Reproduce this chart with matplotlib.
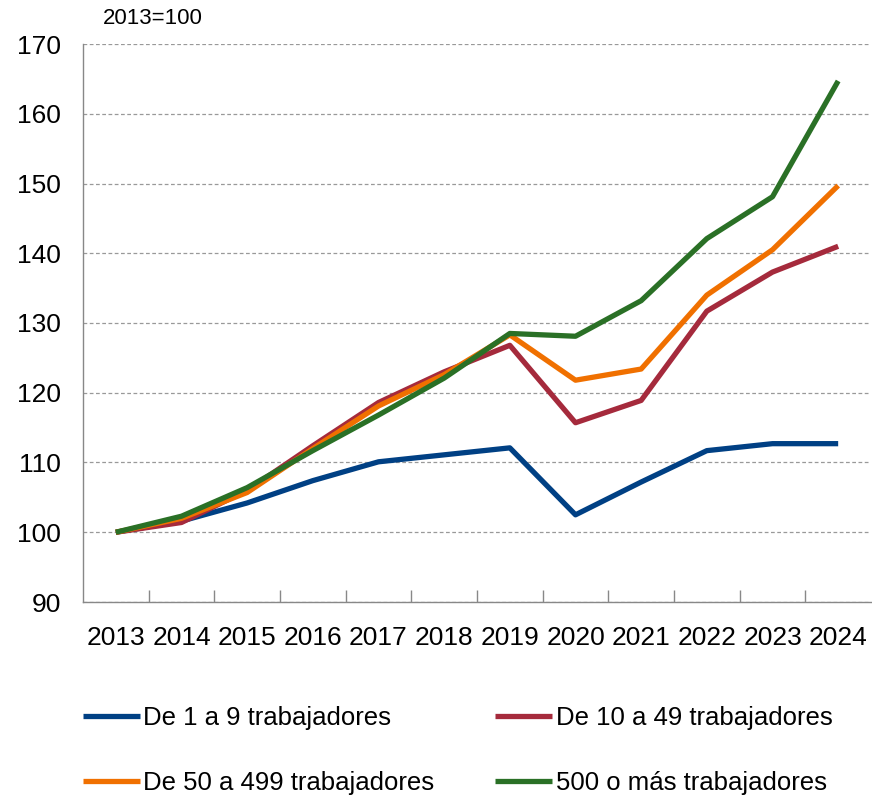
import matplotlib
matplotlib.use('Agg')
import matplotlib.pyplot as plt

plt.rcParams['font.family'] = ['Liberation Sans', 'DejaVu Sans']

years = ['2013', '2014', '2015', '2016', '2017', '2018',
         '2019', '2020', '2021', '2022', '2023', '2024']

# Índices 2013=100 por tamaño de empresa
micro = [100, 101.6, 104.2, 107.4, 110.1, 111.1, 112.1, 102.5, 107.2, 111.7, 112.7, 112.7]
pequena = [100, 101.4, 106.0, 112.4, 118.6, 123.0, 126.8, 115.7, 118.9, 131.7, 137.3, 141.0]
mediana = [100, 102.0, 105.7, 112.0, 118.1, 122.6, 128.3, 121.8, 123.4, 134.0, 140.5, 149.7]
grande = [100, 102.3, 106.4, 111.7, 116.8, 122.1, 128.5, 128.1, 133.2, 142.1, 148.1, 164.7]

labels = ['De 1 a 9 trabajadores', 'De 10 a 49 trabajadores',
          'De 50 a 499 trabajadores', '500 o más trabajadores']
colors = ['#004084', '#a52a3c', '#f07000', '#2a7026']

fig = plt.figure(figsize=(8.72, 7.99), dpi=100)
ax = fig.add_axes([83 / 872, 1 - 602 / 799, 788 / 872, 558 / 799])

x = range(len(years))
lines = []
for series, label, color in zip([micro, pequena, mediana, grande], labels, colors):
    ln, = ax.plot(x, series, color=color, lw=3.8, label=label, solid_capstyle='butt')
    lines.append(ln)

ax.set_xlim(-0.5, len(years) - 0.5)
ax.set_ylim(90, 170)
ax.set_yticks(range(90, 171, 10))
ax.tick_params(axis='y', length=0, labelsize=19, pad=16)

ax.set_xticks(x)
ax.set_xticklabels(years)
ax.set_xticks([i + 0.5 for i in range(len(years) - 1)], minor=True)
ax.tick_params(axis='x', which='major', length=0, labelsize=19, pad=17)
ax.tick_params(axis='x', which='minor', direction='in', length=9, color='#888888', width=1)

ax.grid(axis='y', linestyle=(0, (3, 2)), color='#999999', lw=0.9)
ax.set_axisbelow(True)
for s in ['top', 'right']:
    ax.spines[s].set_visible(False)
for s in ['left', 'bottom']:
    ax.spines[s].set_color('#888888')
    ax.spines[s].set_linewidth(1)

fig.text(103 / 872, 1 - 19 / 799, '2013=100', fontsize=16, va='center', ha='left')

order = [0, 2, 1, 3]
fig.legend([lines[i] for i in order], [labels[i] for i in order],
           ncol=2, loc='upper left', bbox_to_anchor=(83 / 872, 1 - 706 / 799),
           frameon=False, fontsize=18.5, handlelength=2.2, handletextpad=0.15,
           columnspacing=2.37, labelspacing=1.6, borderpad=0, borderaxespad=0)

fig.savefig('out.png', dpi=100)
